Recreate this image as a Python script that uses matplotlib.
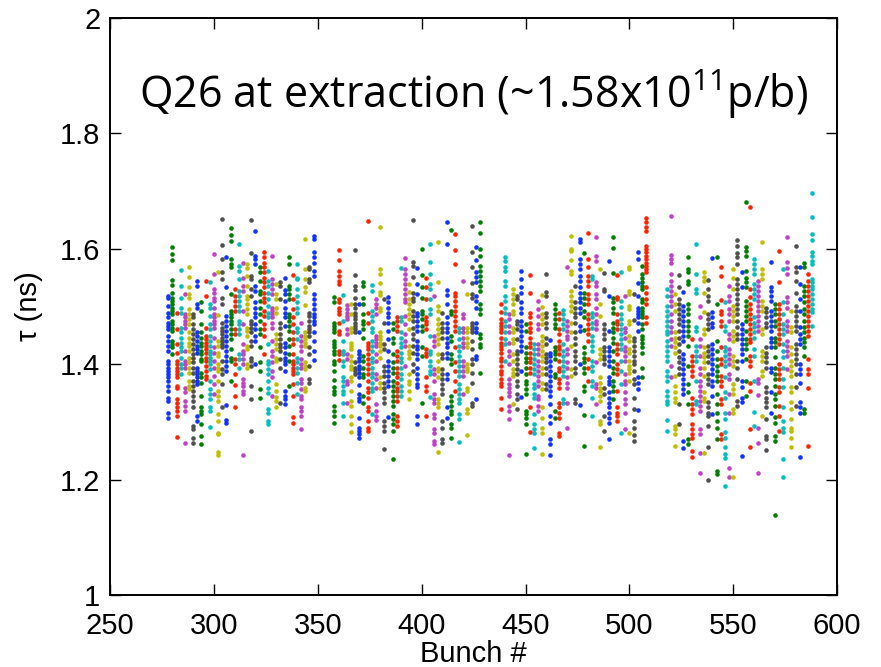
import matplotlib
matplotlib.use("Agg")
import matplotlib.pyplot as plt

# Bunch numbers: four batches of 36 bunches, spacing 2
batch_starts = [278, 358, 438, 518]
bunch_step = 2

batch1_tau = [
    [1.518,1.515,1.501,1.489,1.481,1.472,1.466,1.461,1.449,1.440,1.432,1.423,1.406,1.400,1.394,1.388,1.383,1.377,1.371,1.362,1.354,1.342,1.336,1.316,1.306],
    [1.604,1.591,1.581,1.546,1.537,1.524,1.515,1.510,1.504,1.498,1.492,1.487,1.475,1.469,1.463,1.458,1.440,1.435,1.429,1.417],
    [1.488,1.461,1.435,1.420,1.406,1.400,1.394,1.388,1.383,1.377,1.362,1.359,1.339,1.333,1.325,1.319,1.310,1.274],
    [1.563,1.536,1.515,1.498,1.489,1.463,1.455,1.446,1.437,1.429,1.423,1.411,1.400,1.393,1.383],
    [1.521,1.487,1.481,1.475,1.469,1.463,1.423,1.406,1.400,1.394,1.359,1.351,1.336,1.328,1.319,1.264],
    [1.569,1.552,1.534,1.521,1.515,1.495,1.487,1.478,1.469,1.455,1.446,1.437,1.432,1.423,1.411,1.403,1.394,1.385,1.371,1.362,1.357],
    [1.487,1.481,1.469,1.461,1.452,1.443,1.435,1.426,1.417,1.411,1.403,1.394,1.385,1.371,1.362,1.354,1.345,1.336,1.326,1.293,1.287,1.273,1.264],
    [1.544,1.536,1.504,1.498,1.455,1.449,1.440,1.432,1.426,1.420,1.394,1.388,1.383,1.377,1.371,1.365,1.310,1.302],
    [1.507,1.492,1.469,1.455,1.446,1.437,1.432,1.423,1.417,1.409,1.406,1.385,1.377,1.368,1.345,1.325,1.319,1.313,1.297,1.276,1.261],
    [1.544,1.518,1.463,1.449,1.443,1.437,1.432,1.426,1.420,1.411,1.406,1.397,1.388,1.380,1.374],
    [1.542,1.505,1.498,1.484,1.469,1.461,1.449,1.440,1.432,1.423,1.417,1.411,1.406,1.400,1.391,1.371,1.357,1.348,1.339,1.325,1.319,1.292],
    [1.591,1.557,1.530,1.524,1.515,1.509,1.498,1.487,1.481,1.475,1.469,1.463,1.446,1.429,1.420,1.406,1.394,1.380,1.365,1.348],
    [1.560,1.485,1.440,1.432,1.420,1.414,1.400,1.394,1.388,1.371,1.354,1.345,1.336,1.313,1.302,1.281,1.279,1.248,1.243],
    [1.651,1.607,1.582,1.560,1.547,1.515,1.504,1.472,1.463,1.458,1.452,1.446,1.440,1.435,1.429,1.406,1.391,1.383,1.365,1.326],
    [1.585,1.533,1.484,1.475,1.466,1.458,1.449,1.440,1.432,1.423,1.414,1.406,1.397,1.388,1.329,1.304,1.299],
    [1.636,1.624,1.613,1.582,1.573,1.568,1.521,1.492,1.487,1.481,1.475,1.469,1.461,1.452,1.443,1.426,1.411,1.406,1.371],
    [1.530,1.518,1.510,1.501,1.492,1.461,1.452,1.409,1.400,1.383,1.364,1.345,1.325],
    [1.608,1.570,1.562,1.547,1.527,1.518,1.510,1.501,1.492,1.475,1.469,1.461,1.452,1.417,1.409,1.394],
    [1.575,1.549,1.536,1.527,1.492,1.469,1.435,1.423,1.417,1.409,1.400,1.374,1.368,1.362,1.354,1.348,1.243],
    [1.573,1.566,1.553,1.536,1.518,1.513,1.504,1.495,1.487,1.463,1.458,1.449,1.432,1.426,1.400,1.394],
    [1.650,1.592,1.553,1.547,1.530,1.518,1.475,1.469,1.463,1.455,1.440,1.432,1.411,1.406,1.397,1.362,1.340,1.284],
    [1.631,1.588,1.582,1.573,1.536,1.527,1.507,1.498,1.489,1.481,1.469,1.461,1.449,1.440,1.400],
    [1.569,1.559,1.544,1.527,1.521,1.510,1.498,1.487,1.475,1.461,1.452,1.430,1.403,1.388,1.357,1.342],
    [1.595,1.586,1.576,1.568,1.559,1.550,1.542,1.533,1.524,1.515,1.507,1.492,1.484,1.469,1.461,1.449,1.417],
    [1.562,1.544,1.536,1.524,1.513,1.501,1.489,1.481,1.435,1.406,1.400,1.391,1.383,1.371,1.359,1.350,1.322,1.316,1.302,1.296],
    [1.588,1.547,1.539,1.530,1.521,1.498,1.492,1.487,1.481,1.472,1.463,1.440,1.423,1.414,1.403,1.388,1.378,1.345],
    [1.539,1.521,1.513,1.498,1.489,1.452,1.443,1.435,1.426,1.411,1.406,1.365,1.354,1.343,1.336,1.326],
    [1.542,1.536,1.513,1.472,1.463,1.452,1.443,1.435,1.429,1.423,1.409,1.394,1.333],
    [1.549,1.528,1.521,1.510,1.498,1.489,1.481,1.466,1.437,1.429,1.420,1.411,1.406,1.400,1.388,1.354,1.345,1.339,1.331],
    [1.586,1.574,1.536,1.530,1.521,1.513,1.487,1.481,1.475,1.466,1.458,1.443,1.432,1.417,1.406,1.362],
    [1.555,1.513,1.495,1.481,1.469,1.455,1.443,1.435,1.417,1.406,1.400,1.394,1.388,1.383,1.365,1.345,1.309,1.298],
    [1.573,1.550,1.547,1.530,1.518,1.507,1.498,1.489,1.463,1.455,1.443,1.411,1.403,1.394,1.385,1.368,1.348],
    [1.472,1.449,1.440,1.432,1.423,1.409,1.400,1.394,1.374,1.368,1.357,1.345,1.339,1.326,1.319,1.310,1.288],
    [1.617,1.565,1.547,1.533,1.526,1.503,1.455,1.449,1.443,1.437,1.432,1.403,1.397,1.391,1.359,1.354],
    [1.568,1.565,1.547,1.542,1.489,1.484,1.475,1.466,1.461,1.455,1.449,1.429,1.417,1.397,1.374,1.368],
    [1.622,1.617,1.595,1.585,1.576,1.562,1.553,1.521,1.513,1.504,1.495,1.487,1.481,1.475,1.469,1.455,1.440,1.423,1.407],
]

batch2_tau = [
    [1.517,1.507,1.472,1.466,1.461,1.455,1.440,1.435,1.429,1.423,1.417,1.406,1.400,1.388,1.372,1.361,1.354,1.348,1.328,1.319,1.310,1.299],
    [1.598,1.580,1.562,1.553,1.544,1.539,1.513,1.507,1.498,1.492,1.487,1.472,1.458,1.452,1.423,1.417,1.407],
    [1.520,1.475,1.440,1.423,1.417,1.406,1.397,1.377,1.371,1.362,1.354,1.348,1.333,1.310],
    [1.503,1.495,1.489,1.484,1.478,1.461,1.452,1.417,1.409,1.371,1.365,1.333],
    [1.504,1.487,1.463,1.455,1.437,1.432,1.426,1.414,1.406,1.397,1.391,1.377,1.371,1.354,1.336,1.328,1.310,1.297,1.283],
    [1.598,1.554,1.536,1.528,1.515,1.504,1.498,1.489,1.484,1.478,1.472,1.466,1.461,1.455,1.403,1.394,1.388,1.383],
    [1.505,1.455,1.423,1.417,1.411,1.406,1.397,1.391,1.385,1.377,1.364,1.348,1.342,1.336,1.306,1.290,1.284,1.279,1.273],
    [1.542,1.536,1.515,1.504,1.487,1.475,1.469,1.461,1.446,1.414,1.406,1.394,1.383,1.377,1.345,1.333],
    [1.648,1.488,1.472,1.437,1.432,1.426,1.417,1.409,1.400,1.391,1.383,1.371,1.359,1.351,1.342,1.325,1.319,1.302,1.290,1.284],
    [1.537,1.527,1.492,1.484,1.475,1.463,1.455,1.440,1.432,1.423,1.411,1.403,1.394,1.385,1.377,1.368,1.359,1.354,1.313],
    [1.513,1.505,1.498,1.487,1.449,1.443,1.437,1.432,1.417,1.406,1.383,1.374,1.359,1.331,1.319,1.310,1.303],
    [1.637,1.565,1.556,1.540,1.526,1.520,1.498,1.492,1.455,1.449,1.443,1.437,1.432,1.423,1.411,1.377,1.368,1.359],
    [1.513,1.472,1.435,1.426,1.397,1.388,1.380,1.368,1.359,1.351,1.342,1.333,1.302,1.293,1.285,1.253],
    [1.517,1.507,1.498,1.489,1.481,1.472,1.458,1.443,1.423,1.406,1.397,1.388,1.380,1.371,1.362,1.309],
    [1.472,1.461,1.446,1.437,1.417,1.403,1.394,1.385,1.371,1.362,1.354,1.345,1.336,1.328,1.313,1.305,1.296,1.285,1.235],
    [1.482,1.475,1.466,1.458,1.423,1.414,1.406,1.394,1.385,1.377,1.368,1.359,1.354,1.345,1.336,1.310,1.302,1.293],
    [1.566,1.481,1.475,1.455,1.446,1.437,1.429,1.420,1.411,1.403,1.394,1.383,1.374,1.362,1.354,1.345],
    [1.584,1.565,1.556,1.547,1.539,1.530,1.521,1.513,1.507,1.484,1.469,1.452,1.440,1.432,1.397],
    [1.539,1.526,1.513,1.504,1.495,1.487,1.478,1.461,1.432,1.423,1.417,1.411,1.383,1.371,1.365,1.354,1.339],
    [1.650,1.578,1.570,1.551,1.524,1.515,1.510,1.492,1.484,1.475,1.463,1.452,1.443,1.432,1.420,1.400,1.388],
    [1.566,1.539,1.521,1.489,1.484,1.475,1.466,1.458,1.440,1.432,1.426,1.417,1.409,1.394,1.383,1.374,1.365,1.361,1.310,1.296],
    [1.599,1.555,1.534,1.515,1.492,1.487,1.478,1.466,1.458,1.429,1.414,1.333],
    [1.550,1.534,1.513,1.481,1.475,1.469,1.461,1.426,1.420,1.414,1.377,1.362,1.354,1.310],
    [1.609,1.578,1.557,1.539,1.530,1.513,1.495,1.487,1.449,1.423,1.417,1.406,1.397,1.388,1.383,1.343],
    [1.518,1.449,1.440,1.432,1.391,1.383,1.371,1.348,1.339,1.333,1.313,1.307,1.287,1.281,1.267,1.261],
    [1.611,1.542,1.501,1.492,1.478,1.469,1.461,1.452,1.443,1.435,1.417,1.406,1.394,1.388,1.377,1.339,1.333,1.325,1.248],
    [1.488,1.472,1.463,1.455,1.446,1.417,1.411,1.391,1.383,1.374,1.365,1.357,1.348,1.302,1.290,1.270,1.264],
    [1.646,1.608,1.528,1.520,1.505,1.481,1.472,1.463,1.455,1.446,1.437,1.429,1.420,1.411,1.383,1.374,1.326,1.307],
    [1.632,1.492,1.487,1.449,1.440,1.417,1.409,1.400,1.345,1.336,1.328,1.319,1.313,1.296,1.290,1.272],
    [1.625,1.598,1.573,1.524,1.518,1.510,1.501,1.492,1.484,1.475,1.466,1.458,1.429,1.403,1.388,1.371,1.354],
    [1.463,1.455,1.443,1.432,1.423,1.414,1.406,1.397,1.388,1.380,1.365,1.357,1.348,1.339,1.333,1.313,1.305,1.266],
    [1.544,1.487,1.480,1.463,1.455,1.446,1.437,1.429,1.406,1.397,1.388,1.380,1.348],
    [1.521,1.463,1.455,1.446,1.437,1.429,1.400,1.394,1.388,1.359,1.354,1.322,1.316,1.277],
    [1.640,1.595,1.568,1.540,1.521,1.515,1.472,1.466,1.461,1.455,1.440,1.426,1.409,1.400,1.384,1.368,1.333,1.328],
    [1.603,1.580,1.559,1.551,1.542,1.518,1.510,1.498,1.472,1.463,1.455,1.414,1.409,1.339],
    [1.646,1.627,1.599,1.588,1.570,1.562,1.553,1.544,1.536,1.527,1.504,1.495,1.487,1.452,1.446,1.435,1.429,1.384],
]

batch3_tau = [
    [1.505,1.491,1.478,1.472,1.466,1.461,1.455,1.446,1.437,1.432,1.426,1.420,1.411,1.406,1.397,1.388,1.383,1.374,1.368,1.362,1.342,1.323],
    [1.585,1.579,1.568,1.562,1.544,1.536,1.518,1.510,1.498,1.489,1.475,1.466,1.455,1.443,1.435,1.406],
    [1.487,1.478,1.466,1.455,1.437,1.423,1.414,1.400,1.374,1.365,1.359,1.351,1.345,1.328,1.319,1.305,1.242],
    [1.530,1.521,1.513,1.504,1.492,1.487,1.463,1.455,1.443,1.437,1.417,1.406,1.391,1.385,1.380,1.331],
    [1.518,1.513,1.475,1.469,1.461,1.443,1.423,1.417,1.409,1.400,1.391,1.383,1.371,1.362,1.348,1.339,1.322],
    [1.562,1.547,1.534,1.524,1.507,1.498,1.489,1.475,1.466,1.458,1.449,1.440,1.432,1.423,1.388,1.343],
    [1.469,1.458,1.429,1.420,1.411,1.403,1.394,1.383,1.371,1.365,1.357,1.348,1.319,1.313,1.307,1.296,1.244],
    [1.555,1.523,1.489,1.481,1.472,1.463,1.455,1.446,1.437,1.429,1.420,1.411,1.403,1.394,1.385,1.326,1.283],
    [1.435,1.426,1.417,1.409,1.400,1.391,1.383,1.365,1.359,1.348,1.342,1.313,1.296,1.287,1.281,1.255],
    [1.510,1.495,1.484,1.469,1.461,1.435,1.426,1.417,1.406,1.397,1.388,1.380,1.371,1.362,1.345,1.339,1.328,1.319],
    [1.520,1.499,1.487,1.478,1.469,1.449,1.440,1.432,1.423,1.414,1.406,1.394,1.383,1.368,1.357,1.325,1.306,1.290,1.281,1.244],
    [1.556,1.526,1.518,1.489,1.481,1.472,1.463,1.446,1.435,1.417,1.411,1.403,1.394,1.383,1.365,1.357],
    [1.442,1.420,1.414,1.406,1.397,1.388,1.380,1.371,1.362,1.354,1.345,1.331,1.311,1.299,1.270,1.261,1.243],
    [1.505,1.495,1.487,1.478,1.469,1.463,1.429,1.423,1.417,1.409,1.383,1.377,1.319,1.306],
    [1.488,1.478,1.461,1.452,1.440,1.432,1.426,1.417,1.406,1.394,1.388,1.374,1.368,1.359,1.333,1.325,1.316,1.307,1.281,1.276],
    [1.494,1.487,1.478,1.469,1.461,1.435,1.423,1.414,1.406,1.397,1.388,1.380,1.339,1.333],
    [1.568,1.475,1.466,1.458,1.449,1.443,1.426,1.417,1.403,1.394,1.377,1.368,1.359,1.332,1.290],
    [1.622,1.599,1.596,1.581,1.561,1.556,1.527,1.518,1.510,1.501,1.492,1.472,1.455,1.432,1.391,1.380],
    [1.536,1.507,1.498,1.489,1.481,1.472,1.455,1.446,1.435,1.423,1.414,1.406,1.394,1.385,1.339,1.333],
    [1.617,1.611,1.582,1.573,1.565,1.553,1.544,1.533,1.524,1.515,1.507,1.498,1.489,1.466,1.458,1.400,1.329],
    [1.592,1.524,1.515,1.504,1.492,1.481,1.459,1.429,1.420,1.411,1.403,1.394,1.385,1.362,1.354,1.312,1.258],
    [1.627,1.582,1.568,1.553,1.544,1.536,1.521,1.513,1.504,1.487,1.478,1.469,1.461,1.452,1.440,1.409,1.394,1.371],
    [1.553,1.547,1.489,1.481,1.472,1.463,1.449,1.440,1.432,1.423,1.406,1.397,1.388,1.371,1.362,1.342,1.311],
    [1.620,1.587,1.579,1.542,1.536,1.521,1.513,1.498,1.487,1.475,1.469,1.461,1.403,1.365,1.359,1.331],
    [1.565,1.504,1.484,1.426,1.417,1.409,1.377,1.368,1.359,1.354,1.345,1.336,1.302,1.296,1.257],
    [1.558,1.530,1.527,1.469,1.461,1.452,1.443,1.429,1.423,1.414,1.409,1.400,1.359,1.348,1.310,1.284],
    [1.579,1.518,1.458,1.429,1.423,1.414,1.406,1.397,1.377,1.371,1.365,1.351,1.342,1.333,1.325,1.316,1.307,1.299,1.270],
    [1.620,1.602,1.558,1.515,1.507,1.498,1.489,1.472,1.463,1.455,1.446,1.437,1.423,1.406,1.394,1.385,1.371,1.362,1.354,1.339],
    [1.555,1.517,1.513,1.487,1.475,1.469,1.461,1.435,1.426,1.417,1.400,1.391,1.383,1.354,1.326,1.316,1.310,1.302],
    [1.559,1.509,1.499,1.487,1.478,1.469,1.461,1.452,1.443,1.435,1.426,1.406,1.388,1.365,1.281],
    [1.518,1.463,1.455,1.446,1.429,1.423,1.414,1.406,1.383,1.371,1.365,1.351,1.339,1.331,1.316,1.287],
    [1.568,1.565,1.527,1.521,1.501,1.495,1.475,1.469,1.449,1.440,1.426,1.420,1.406,1.397,1.391,1.385,1.371,1.281],
    [1.521,1.476,1.446,1.440,1.432,1.423,1.414,1.406,1.400,1.388,1.374,1.365,1.342,1.322,1.302,1.290,1.277,1.267],
    [1.594,1.583,1.540,1.518,1.498,1.492,1.487,1.481,1.472,1.457,1.377,1.368,1.357,1.320],
    [1.570,1.556,1.550,1.542,1.536,1.530,1.513,1.507,1.498,1.492,1.487,1.481,1.469,1.461,1.449,1.443,1.437,1.429,1.420,1.394,1.377],
    [1.653,1.646,1.637,1.631,1.605,1.599,1.594,1.588,1.582,1.576,1.570,1.565,1.559,1.533,1.524,1.513,1.504,1.481,1.472],
]

batch4_tau = [
    [1.530,1.519,1.501,1.493,1.484,1.475,1.467,1.458,1.452,1.441,1.432,1.423,1.415,1.406,1.389,1.380,1.371,1.354,1.345,1.337,1.331,1.303,1.285],
    [1.657,1.589,1.582,1.576,1.556,1.545,1.536,1.527,1.519,1.510,1.501,1.487,1.475,1.464,1.455,1.444,1.432,1.397,1.378],
    [1.522,1.504,1.493,1.455,1.446,1.438,1.429,1.420,1.380,1.363,1.351,1.342,1.334,1.293,1.287,1.279,1.259],
    [1.554,1.533,1.513,1.504,1.496,1.487,1.478,1.470,1.458,1.446,1.435,1.423,1.412,1.403,1.394,1.383,1.331,1.296],
    [1.526,1.501,1.493,1.484,1.475,1.467,1.458,1.449,1.441,1.418,1.409,1.400,1.392,1.383,1.374,1.366,1.357,1.348,1.267,1.255],
    [1.586,1.565,1.559,1.545,1.539,1.504,1.496,1.487,1.475,1.467,1.458,1.449,1.432,1.397,1.366,1.351,1.331,1.270,1.262],
    [1.444,1.415,1.406,1.397,1.389,1.380,1.342,1.331,1.322,1.313,1.296,1.287,1.279,1.273,1.250,1.240],
    [1.608,1.556,1.530,1.524,1.464,1.458,1.432,1.423,1.415,1.406,1.371,1.337,1.331],
    [1.501,1.481,1.444,1.432,1.415,1.394,1.383,1.371,1.363,1.354,1.345,1.337,1.328,1.319,1.287,1.279,1.246,1.211],
    [1.559,1.552,1.544,1.524,1.490,1.461,1.452,1.429,1.420,1.412,1.403,1.394,1.380,1.351,1.342,1.337,1.246],
    [1.546,1.530,1.519,1.510,1.487,1.478,1.470,1.461,1.432,1.423,1.415,1.403,1.383,1.374,1.366,1.334,1.325,1.316,1.311,1.293,1.256,1.200],
    [1.584,1.490,1.481,1.472,1.464,1.435,1.426,1.418,1.409,1.400,1.392,1.383,1.371,1.363,1.345,1.313],
    [1.586,1.504,1.441,1.423,1.409,1.397,1.389,1.380,1.371,1.348,1.331,1.316,1.302,1.290,1.270,1.215,1.209],
    [1.568,1.553,1.511,1.493,1.487,1.475,1.467,1.429,1.409,1.400,1.380,1.371,1.363,1.339,1.331,1.279,1.270],
    [1.507,1.467,1.458,1.429,1.423,1.415,1.406,1.397,1.377,1.351,1.342,1.316,1.305,1.282,1.273,1.256,1.244,1.238,1.189],
    [1.536,1.519,1.510,1.496,1.487,1.475,1.452,1.444,1.426,1.418,1.409,1.400,1.383,1.374,1.348,1.315,1.221,1.205],
    [1.565,1.550,1.530,1.501,1.493,1.484,1.475,1.458,1.449,1.441,1.415,1.406,1.397,1.366,1.357,1.348,1.322,1.315,1.204],
    [1.616,1.605,1.592,1.585,1.574,1.548,1.539,1.530,1.522,1.513,1.504,1.496,1.487,1.475,1.464,1.452,1.444,1.406,1.394,1.374,1.337,1.328],
    [1.559,1.533,1.470,1.461,1.452,1.444,1.435,1.426,1.418,1.406,1.371,1.360,1.342,1.334,1.241],
    [1.682,1.604,1.596,1.588,1.562,1.550,1.542,1.533,1.510,1.501,1.493,1.484,1.475,1.458,1.444,1.435,1.426,1.409,1.371,1.345],
    [1.673,1.530,1.516,1.504,1.496,1.487,1.478,1.470,1.461,1.452,1.444,1.438,1.415,1.406,1.397,1.368,1.354,1.287,1.256],
    [1.582,1.574,1.565,1.556,1.539,1.530,1.522,1.513,1.481,1.472,1.464,1.455,1.446,1.426,1.415,1.371,1.318,1.293],
    [1.545,1.536,1.527,1.519,1.510,1.501,1.493,1.484,1.475,1.467,1.458,1.374,1.368,1.346,1.290,1.264,1.212],
    [1.612,1.565,1.556,1.548,1.510,1.501,1.493,1.461,1.452,1.423,1.415,1.406,1.389,1.380,1.311],
    [1.498,1.490,1.481,1.472,1.464,1.429,1.420,1.412,1.403,1.394,1.360,1.351,1.342,1.334,1.325,1.305,1.276,1.270,1.251],
    [1.578,1.534,1.527,1.519,1.510,1.493,1.484,1.475,1.467,1.458,1.446,1.438,1.429,1.394,1.386,1.351,1.316],
    [1.505,1.496,1.487,1.475,1.467,1.446,1.438,1.429,1.412,1.394,1.383,1.374,1.363,1.348,1.339,1.328,1.308,1.299,1.276,1.267,1.139],
    [1.596,1.542,1.504,1.496,1.487,1.478,1.470,1.461,1.452,1.444,1.435,1.400,1.392,1.383,1.374,1.360,1.351,1.328,1.311,1.285],
    [1.565,1.507,1.487,1.470,1.461,1.452,1.435,1.423,1.412,1.394,1.374,1.360,1.325,1.302,1.290,1.282,1.235,1.205],
    [1.620,1.578,1.567,1.556,1.516,1.507,1.498,1.475,1.467,1.458,1.441,1.432,1.423,1.415,1.392],
    [1.493,1.464,1.455,1.429,1.418,1.406,1.397,1.389,1.380,1.360,1.351,1.334,1.322,1.305,1.290,1.285,1.273,1.257],
    [1.605,1.568,1.559,1.545,1.524,1.501,1.493,1.484,1.475,1.467,1.458,1.435,1.426,1.418,1.409,1.400,1.383,1.360,1.328],
    [1.568,1.539,1.513,1.493,1.464,1.452,1.444,1.435,1.400,1.392,1.383,1.368,1.334,1.325,1.316,1.240],
    [1.576,1.568,1.536,1.527,1.519,1.507,1.496,1.487,1.475,1.464,1.455,1.446,1.438,1.429,1.415,1.322,1.315],
    [1.556,1.545,1.536,1.527,1.519,1.510,1.501,1.493,1.484,1.475,1.467,1.458,1.449,1.409,1.392,1.383,1.358,1.259],
    [1.696,1.656,1.626,1.615,1.594,1.588,1.579,1.574,1.548,1.542,1.536,1.530,1.522,1.513,1.504,1.496,1.490,1.467],
]

# MATLAB-style colour order, cycling per bunch
color_order = ['#1133ff', '#008000', '#ff2200', '#00bfbf', '#c040c8', '#bfbf00', '#505050']

title_text = r'Q26 at extraction (~1.58x10$^{11}$p/b)'
x_ticks = [250, 300, 350, 400, 450, 500, 550, 600]
y_ticks = [1, 1.2, 1.4, 1.6, 1.8, 2]

plt.rcParams['mathtext.fontset'] = 'custom'
plt.rcParams['mathtext.rm'] = 'Open Sans'
plt.rcParams['mathtext.it'] = 'Open Sans'

fig = plt.figure(figsize=(8.81, 6.67), dpi=100)
ax = fig.add_axes([0.1249, 0.1079, 0.8253, 0.8651])

idx = 0
for start, batch in zip(batch_starts, [batch1_tau, batch2_tau, batch3_tau, batch4_tau]):
    for k, vals in enumerate(batch):
        bunch = start + bunch_step * k
        ax.plot([bunch] * len(vals), vals, linestyle='none', marker='o',
                markersize=3.3, markeredgewidth=0,
                color=color_order[idx % len(color_order)])
        idx += 1

ax.set_xlim(250, 600)
ax.set_ylim(1, 2)
ax.set_xticks(x_ticks)
ax.set_yticks(y_ticks)
ax.set_xticklabels([str(t) for t in x_ticks])
ax.set_yticklabels(['1', '1.2', '1.4', '1.6', '1.8', '2'])
ax.tick_params(direction='in', length=8, width=1, top=True, right=True,
               labelsize=21)
ax.tick_params(axis='x', pad=12)
ax.tick_params(axis='y', pad=7)
for lab in ax.get_xticklabels() + ax.get_yticklabels():
    lab.set_fontfamily('Liberation Sans')
for sp in ax.spines.values():
    sp.set_linewidth(1.4)

ax.set_xlabel('Bunch #', fontsize=21, family='Liberation Sans', labelpad=0)
ax.set_ylabel(r'τ (ns)', fontsize=21, family=['Liberation Sans', 'DejaVu Sans'], labelpad=12)

ax.text(0.5, 0.868, title_text, transform=ax.transAxes, ha='center', va='center',
        fontsize=31, family='Open Sans')

fig.savefig('out.png', dpi=100)
